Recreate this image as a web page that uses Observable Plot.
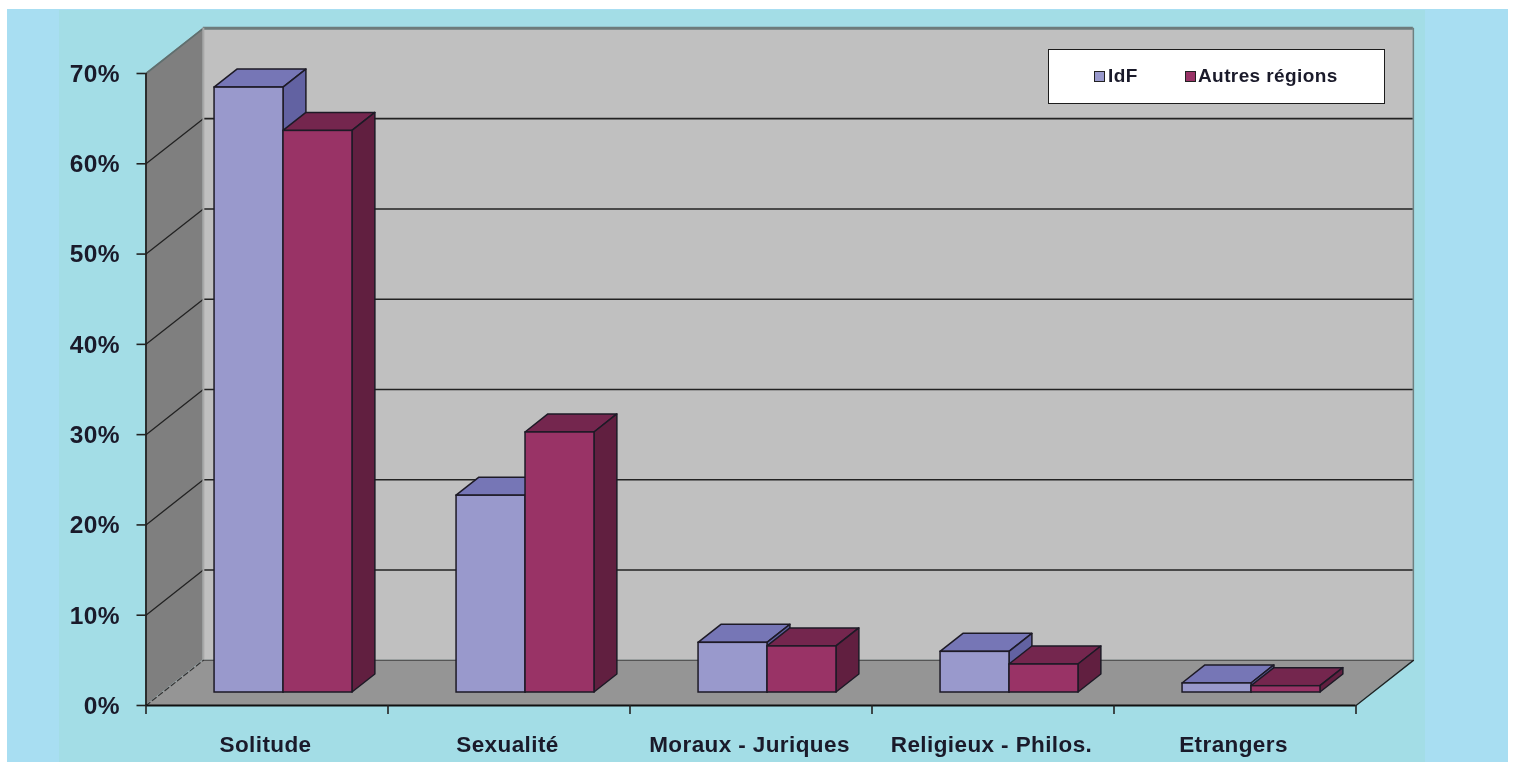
<!DOCTYPE html>
<html lang="fr">
<head>
<meta charset="utf-8">
<title>Thèmes par région</title>
<script src="https://cdn.jsdelivr.net/npm/d3@7"></script>
<script src="https://cdn.jsdelivr.net/npm/@observablehq/plot@0.6"></script>
<style>
  html, body { margin: 0; padding: 0; background: #fff; width: 1514px; height: 762px; overflow: hidden; }
  #outer { position: absolute; left: 7px; top: 9px; width: 1501px; height: 753px; background: #a8def2; }
  #panel { position: absolute; left: 59px; top: 10px; width: 1366px; height: 752px; background: #a3dde6; }
  #chart { position: absolute; left: 0; top: 0; filter: blur(0.4px); }
  #chart svg { background: transparent; letter-spacing: 0.4px; }
  #legend {
    position: absolute; left: 1048px; top: 49px; width: 337px; height: 55px; box-sizing: border-box;
    background: #fff; border: 1.5px solid #1c1c1c; filter: blur(0.4px);
    font: bold 19px "Liberation Sans", Arial, sans-serif; color: #1a1a2a; letter-spacing: 0.4px;
  }
  #legend span { position: absolute; top: 15px; line-height: 22px; white-space: nowrap; }
  #legend i { position: absolute; top: 21px; width: 9px; height: 9px; border: 1.2px solid #222; }
</style>
</head>
<body>
<div id="outer"></div>
<div id="panel"></div>
<div id="chart"></div>
<div id="legend">
  <i style="left:45px;background:#9999cc"></i><span style="left:59px">IdF</span>
  <i style="left:136px;background:#993366"></i><span style="left:149px">Autres régions</span>
</div>
<script>
const categories = ["Solitude", "Sexualité", "Moraux - Juriques", "Religieux - Philos.", "Etrangers"];
const idf = [67, 21.8, 5.5, 4.5, 1.0];
const autres = [62.2, 28.8, 5.1, 3.1, 0.7];
const yTicks = [0, 10, 20, 30, 40, 50, 60, 70];
const gridValues = [10, 20, 30, 40, 50, 60, 70];
const xEdges = [0, 1, 2, 3, 4, 5];

// Oblique depth: z = 0 is the front plane, z = 1 the back wall, in data units
const depthX = 0.237, depthY = 5.0;
const px = (x, z) => x + z * depthX;
const py = (y, z) => y + z * depthY;
const zFront = 0.288, zBack = 0.687, barW = 0.285;

const edge = "#1d1a26";

function wall() {
  const n = categories.length;
  return [
    Plot.rect([0], {x1: px(0, 1), x2: px(n, 1), y1: py(0, 1), y2: py(70, 1), fill: "#c0c0c0"}),
    Plot.areaY([0, 1], {x: z => px(0, z), y1: z => py(0, z), y2: z => py(70, z), fill: "#7f7f7f"}),
    Plot.areaX([0, 1], {y: z => py(0, z), x1: z => px(0, z), x2: z => px(n, z), fill: "#959595"}),
    // back-wall grid
    Plot.ruleY(gridValues.slice(0, -1), {y: d => py(d, 1), x1: px(0, 1), x2: px(n, 1), stroke: "#222", strokeWidth: 1.6}),
    // left-wall grid
    ...gridValues.slice(0, -1).map(v =>
      Plot.line([0, 1], {x: z => px(0, z), y: z => py(v, z), stroke: "#222", strokeWidth: 1.3})),
    // wall outlines
    Plot.line([0, 1], {x: z => px(0, z), y: z => py(70, z), stroke: "#5f6f6f", strokeWidth: 1.6}),
    Plot.ruleY([70], {y: d => py(d, 1), x1: px(0, 1), x2: px(n, 1), stroke: "#6d7b7b", strokeWidth: 3}),
    Plot.ruleX([n], {x: d => px(d, 1), y1: py(0, 1), y2: py(70, 1), stroke: "#6f7f7f", strokeWidth: 1.5}),
    Plot.ruleX([0], {x: d => px(d, 1), y1: py(0, 1), y2: py(70, 1), stroke: "#a8a8a8", strokeWidth: 2}),
    Plot.ruleY([0], {y: d => py(d, 1), x1: px(0, 1), x2: px(n, 1), stroke: "#555", strokeWidth: 1.4}),
    Plot.line([0, 1], {x: z => px(0, z), y: z => py(0, z), stroke: "#333", strokeWidth: 1.2, strokeDasharray: "5 3"}),
    Plot.line([0, 1], {x: z => px(n, z), y: z => py(0, z), stroke: "#222", strokeWidth: 1.5})
  ];
}

function bar(value, i, left, colors) {
  const a = i + 0.5 + left, b = a + barW;
  const zs = [zFront, zBack];
  return [
    Plot.areaX(zs, {y: z => py(value, z), x1: z => px(a, z), x2: z => px(b, z),
      fill: colors.top, stroke: edge, strokeWidth: 1.5}),
    Plot.areaY(zs, {x: z => px(b, z), y1: z => py(0, z), y2: z => py(value, z),
      fill: colors.side, stroke: edge, strokeWidth: 1.5}),
    Plot.rect([value], {x1: px(a, zFront), x2: px(b, zFront), y1: py(0, zFront), y2: d => py(d, zFront),
      fill: colors.front, stroke: edge, strokeWidth: 1.5})
  ];
}

const idfColors = {front: "#9999cc", top: "#7676b6", side: "#6262a2"};
const autresColors = {front: "#993366", top: "#74264e", side: "#611f40"};

const bars = categories.flatMap((_, i) => [
  ...bar(idf[i], i, -barW, idfColors),
  ...bar(autres[i], i, 0, autresColors)
]);

const chart = Plot.plot({
  width: 1514,
  height: 762,
  marginLeft: 145.5,
  marginRight: 158.5,
  marginTop: 73,
  marginBottom: 57,
  style: {background: "transparent", fontFamily: "'Liberation Sans', Arial, sans-serif", color: "#1a1a2a"},
  x: {domain: [0, 5]},
  y: {domain: [0, 70]},
  marks: [
    ...wall(),
    ...bars,
    Plot.ruleX([0], {y1: 0, y2: 70, stroke: "#222", strokeWidth: 1.8}),
    Plot.ruleY([0], {x1: 0, x2: 5, stroke: "#111", strokeWidth: 1.8}),
    Plot.axisY({ticks: yTicks, tickSize: 9, tickFormat: () => "", label: null, stroke: "#222", strokeWidth: 1.6}),
    Plot.axisY({ticks: yTicks, tickFormat: d => d + "%", tickSize: 0, tickPadding: 26, dy: 0.5,
      fontSize: 24.5, fontWeight: "bold", label: null}),
    Plot.axisX({ticks: xEdges, tickSize: 9, tickFormat: () => "", label: null, stroke: "#222", strokeWidth: 1.6}),
    Plot.axisX({ticks: categories.map((_, i) => i + 0.5), tickSize: 0, tickPadding: 31, dx: -1.5,
      tickFormat: d => categories[d - 0.5], fontSize: 22.5, fontWeight: "bold", label: null})
  ]
});
document.getElementById("chart").append(chart);
</script>
</body>
</html>
